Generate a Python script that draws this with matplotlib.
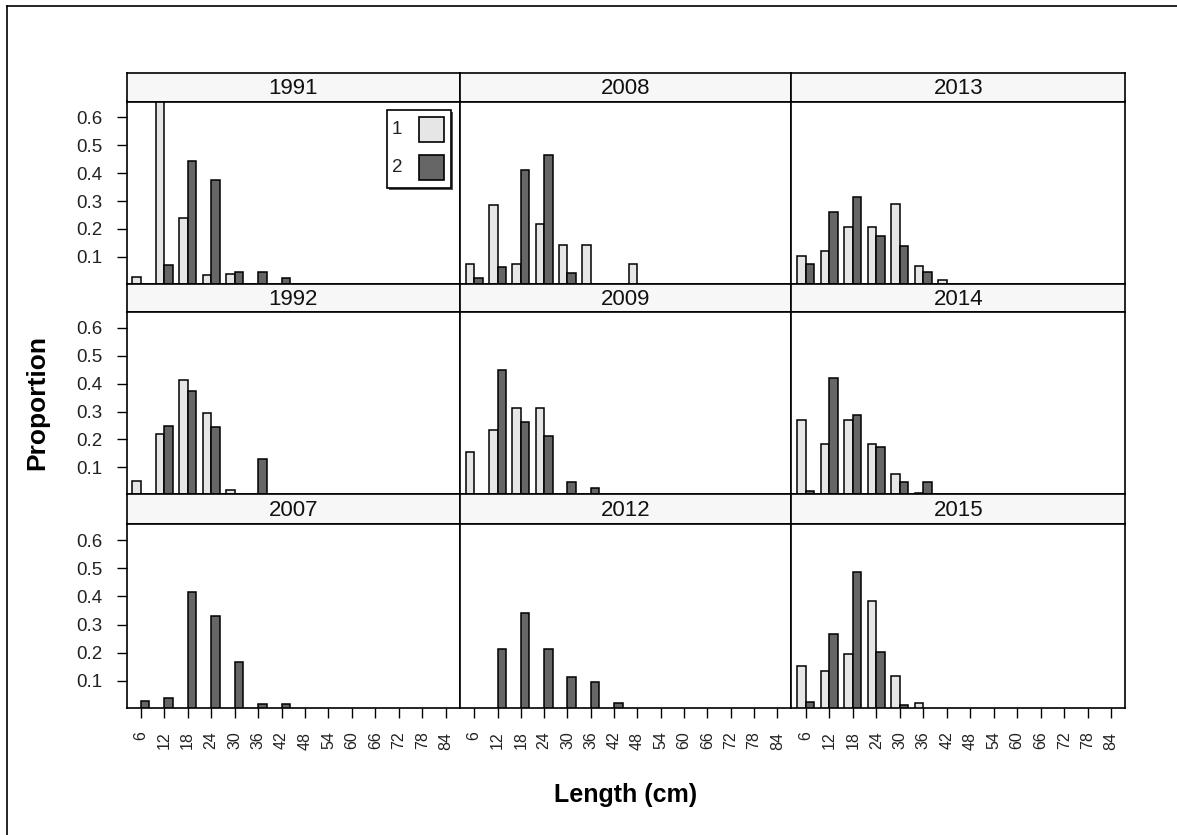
import matplotlib
matplotlib.use('Agg')
import matplotlib.pyplot as plt
from matplotlib.patches import Rectangle
from matplotlib.lines import Line2D
import numpy as np

# length classes (cm)
lengths = [6, 12, 18, 24, 30, 36, 42, 48, 54, 60, 66, 72, 78, 84]

# proportions, group 1 (light) and group 2 (dark)
s1_1991 = [0.029, 0.70, 0.239, 0.033, 0.039, 0, 0, 0, 0, 0, 0, 0, 0, 0]
s2_1991 = [0, 0.069, 0.444, 0.375, 0.045, 0.045, 0.022, 0, 0, 0, 0, 0, 0, 0]
s1_2008 = [0.075, 0.285, 0.075, 0.217, 0.143, 0.143, 0, 0.075, 0, 0, 0, 0, 0, 0]
s2_2008 = [0.023, 0.062, 0.411, 0.466, 0.041, 0, 0, 0, 0, 0, 0, 0, 0, 0]
s1_2013 = [0.102, 0.120, 0.205, 0.205, 0.290, 0.068, 0.017, 0, 0, 0, 0, 0, 0, 0]
s2_2013 = [0.075, 0.261, 0.313, 0.176, 0.137, 0.047, 0, 0, 0, 0, 0, 0, 0, 0]
s1_1992 = [0.052, 0.219, 0.413, 0.294, 0.020, 0, 0, 0, 0, 0, 0, 0, 0, 0]
s2_1992 = [0, 0.249, 0.374, 0.246, 0, 0.129, 0, 0, 0, 0, 0, 0, 0, 0]
s1_2009 = [0.155, 0.232, 0.311, 0.311, 0, 0, 0, 0, 0, 0, 0, 0, 0, 0]
s2_2009 = [0, 0.448, 0.264, 0.213, 0.046, 0.025, 0, 0, 0, 0, 0, 0, 0, 0]
s1_2014 = [0.270, 0.184, 0.270, 0.184, 0.076, 0.008, 0, 0, 0, 0, 0, 0, 0, 0]
s2_2014 = [0.013, 0.419, 0.288, 0.174, 0.048, 0.048, 0, 0, 0, 0, 0, 0, 0, 0]
s1_2007 = [0, 0, 0, 0, 0, 0, 0, 0, 0, 0, 0, 0, 0, 0]
s2_2007 = [0.028, 0.039, 0.417, 0.330, 0.169, 0.0165, 0.0165, 0, 0, 0, 0, 0, 0, 0]
s1_2012 = [0, 0, 0, 0, 0, 0, 0, 0, 0, 0, 0, 0, 0, 0]
s2_2012 = [0, 0.215, 0.342, 0.215, 0.113, 0.095, 0.020, 0, 0, 0, 0, 0, 0, 0]
s1_2015 = [0.153, 0.135, 0.196, 0.382, 0.118, 0.020, 0, 0, 0, 0, 0, 0, 0, 0]
s2_2015 = [0.027, 0.268, 0.487, 0.203, 0.015, 0, 0, 0, 0, 0, 0, 0, 0, 0]

panel_years = [['1991', '2008', '2013'],
               ['1992', '2009', '2014'],
               ['2007', '2012', '2015']]
series = {
    '1991': (s1_1991, s2_1991), '2008': (s1_2008, s2_2008), '2013': (s1_2013, s2_2013),
    '1992': (s1_1992, s2_1992), '2009': (s1_2009, s2_2009), '2014': (s1_2014, s2_2014),
    '2007': (s1_2007, s2_2007), '2012': (s1_2012, s2_2012), '2015': (s1_2015, s2_2015),
}
y_ticks = [0.1, 0.2, 0.3, 0.4, 0.5, 0.6]
group_labels = ['1', '2']

LIGHT = '#e6e6e6'
DARK = '#666666'
STRIP = '#f7f7f7'

plt.rcParams['font.family'] = ['Liberation Sans', 'DejaVu Sans']

W, H = 1177, 835
fig = plt.figure(figsize=(W / 100, H / 100), dpi=100)


def fbox(x0, y0, x1, y1):
    # pixel box (top-left origin) -> figure fraction rect
    return [x0 / W, 1 - y1 / H, (x1 - x0) / W, (y1 - y0) / H]


col_edges = [126.5, 460, 791.5, 1125.5]
strip_tops = [73, 283.5, 494]
plot_tops = [101.5, 312, 524]
plot_bots = [283.5, 494, 708]
bw = 2.17

for r in range(3):
    for c in range(3):
        yr = panel_years[r][c]
        s1, s2 = series[yr]
        x0, x1 = col_edges[c], col_edges[c + 1]

        # strip
        sax = fig.add_axes(fbox(x0, strip_tops[r], x1, plot_tops[r]))
        sax.set_facecolor(STRIP)
        sax.set_xticks([])
        sax.set_yticks([])
        for sp in sax.spines.values():
            sp.set_linewidth(1.2)
        sax.text(0.5, 0.45, yr, ha='center', va='center', fontsize=16,
                 color='#111111', transform=sax.transAxes)

        ax = fig.add_axes(fbox(x0, plot_tops[r], x1, plot_bots[r]))
        ax.bar(lengths, s1, width=-bw, align='edge', color=LIGHT,
               edgecolor='black', linewidth=1.1)
        ax.bar(lengths, s2, width=bw, align='edge', color=DARK,
               edgecolor='black', linewidth=1.1)
        ax.set_xlim(2.35, 87.65)
        ax.set_ylim(0.004, 0.657)
        for sp in ax.spines.values():
            sp.set_linewidth(1.2)

        ax.set_yticks(y_ticks)
        if c == 0:
            ax.set_yticklabels([f'{t:.1f}' for t in y_ticks], fontsize=13.5,
                               color='#222222')
            ax.tick_params(axis='y', length=7.5, width=1.0, pad=10)
        else:
            ax.tick_params(axis='y', left=False, labelleft=False)

        ax.set_xticks(lengths)
        if r == 2:
            ax.set_xticklabels([str(v) for v in lengths], rotation=90,
                               fontsize=11.5, color='#222222')
            ax.tick_params(axis='x', length=7, width=1.0, pad=10)
        else:
            ax.tick_params(axis='x', bottom=False, labelbottom=False)

# legend in the 1991 panel (pixel coordinates)
tf = fig.transFigure
lx0, ly0, lx1, ly1 = 386.5, 110.5, 451, 188
fig.patches.append(Rectangle((lx0 / W + 2 / W, 1 - (ly1 + 2) / H), (lx1 - lx0) / W,
                             (ly1 - ly0) / H, transform=tf, facecolor='#555555',
                             edgecolor='none', zorder=10))
fig.patches.append(Rectangle((lx0 / W, 1 - ly1 / H), (lx1 - lx0) / W, (ly1 - ly0) / H,
                             transform=tf, facecolor='white', edgecolor='black',
                             linewidth=1.2, zorder=11))
for i, (lab, colr) in enumerate(zip(group_labels, [LIGHT, DARK])):
    cy = 129.5 + i * 38
    fig.patches.append(Rectangle((419 / W, 1 - (cy + 12.5) / H), 25 / W, 25 / H,
                                 transform=tf, facecolor=colr, edgecolor='black',
                                 linewidth=1.2, zorder=12))
    fig.text(397 / W, 1 - cy / H, lab, ha='center', va='center', fontsize=13.5,
             color='#222222', zorder=12)

# axis titles
fig.text(626 / W, 1 - 795 / H, 'Length (cm)', ha='center', va='center',
         fontsize=18, fontweight='bold')
fig.text(37 / W, 1 - 403 / H, 'Proportion', ha='center', va='center',
         fontsize=19, fontweight='bold', rotation=90)

# outer frame
fig.add_artist(Line2D([6.5 / W, 1], [1 - 5.5 / H, 1 - 5.5 / H], transform=tf,
                      color='black', linewidth=1.2))
fig.add_artist(Line2D([6.5 / W, 6.5 / W], [0, 1 - 5.5 / H], transform=tf,
                      color='black', linewidth=1.2))

fig.savefig('out.png', dpi=100)
plt.close(fig)
